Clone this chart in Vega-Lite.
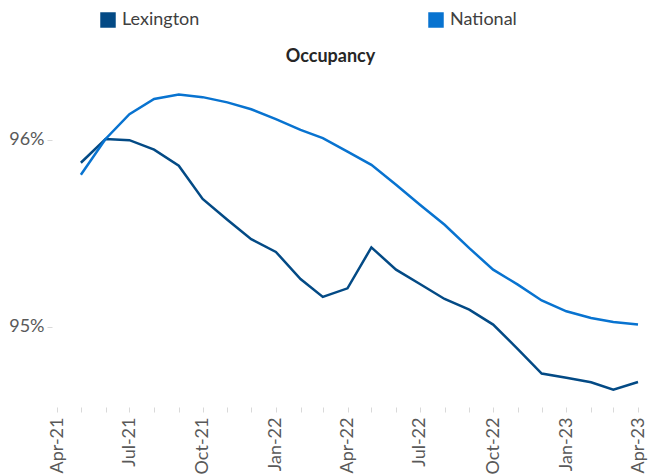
{
  "$schema": "https://vega.github.io/schema/vega-lite/v6.json",
  "autosize": {"type": "none"},
  "width": 581,
  "height": 342,
  "padding": {"left": 57, "top": 65, "right": 11, "bottom": 68},
  "background": "white",
  "config": {
    "font": "Lato",
    "view": {"stroke": null}
  },
  "title": {
    "text": "Occupancy",
    "font": "Lato",
    "fontSize": 18,
    "fontWeight": "bold",
    "color": "#262626",
    "anchor": "middle",
    "frame": "group",
    "dx": -17,
    "dy": 59,
    "offset": 4
  },
  "data": {
    "values": [
      {"date": "2021-05-01", "series": "Lexington", "value": 95.877},
      {"date": "2021-06-01", "series": "Lexington", "value": 96.004},
      {"date": "2021-07-01", "series": "Lexington", "value": 95.998},
      {"date": "2021-08-01", "series": "Lexington", "value": 95.947},
      {"date": "2021-09-01", "series": "Lexington", "value": 95.861},
      {"date": "2021-10-01", "series": "Lexington", "value": 95.683},
      {"date": "2021-11-01", "series": "Lexington", "value": 95.572},
      {"date": "2021-12-01", "series": "Lexington", "value": 95.468},
      {"date": "2022-01-01", "series": "Lexington", "value": 95.4},
      {"date": "2022-02-01", "series": "Lexington", "value": 95.255},
      {"date": "2022-03-01", "series": "Lexington", "value": 95.159},
      {"date": "2022-04-01", "series": "Lexington", "value": 95.205},
      {"date": "2022-05-01", "series": "Lexington", "value": 95.424},
      {"date": "2022-06-01", "series": "Lexington", "value": 95.305},
      {"date": "2022-07-01", "series": "Lexington", "value": 95.228},
      {"date": "2022-08-01", "series": "Lexington", "value": 95.148},
      {"date": "2022-09-01", "series": "Lexington", "value": 95.091},
      {"date": "2022-10-01", "series": "Lexington", "value": 95.011},
      {"date": "2022-11-01", "series": "Lexington", "value": 94.88},
      {"date": "2022-12-01", "series": "Lexington", "value": 94.749},
      {"date": "2023-01-01", "series": "Lexington", "value": 94.726},
      {"date": "2023-02-01", "series": "Lexington", "value": 94.702},
      {"date": "2023-03-01", "series": "Lexington", "value": 94.663},
      {"date": "2023-04-01", "series": "Lexington", "value": 94.704},
      {"date": "2021-05-01", "series": "National", "value": 95.813},
      {"date": "2021-06-01", "series": "National", "value": 96.004},
      {"date": "2021-07-01", "series": "National", "value": 96.137},
      {"date": "2021-08-01", "series": "National", "value": 96.218},
      {"date": "2021-09-01", "series": "National", "value": 96.242},
      {"date": "2021-10-01", "series": "National", "value": 96.228},
      {"date": "2021-11-01", "series": "National", "value": 96.2},
      {"date": "2021-12-01", "series": "National", "value": 96.163},
      {"date": "2022-01-01", "series": "National", "value": 96.11},
      {"date": "2022-02-01", "series": "National", "value": 96.053},
      {"date": "2022-03-01", "series": "National", "value": 96.009},
      {"date": "2022-04-01", "series": "National", "value": 95.937},
      {"date": "2022-05-01", "series": "National", "value": 95.866},
      {"date": "2022-06-01", "series": "National", "value": 95.759},
      {"date": "2022-07-01", "series": "National", "value": 95.652},
      {"date": "2022-08-01", "series": "National", "value": 95.545},
      {"date": "2022-09-01", "series": "National", "value": 95.42},
      {"date": "2022-10-01", "series": "National", "value": 95.305},
      {"date": "2022-11-01", "series": "National", "value": 95.225},
      {"date": "2022-12-01", "series": "National", "value": 95.14},
      {"date": "2023-01-01", "series": "National", "value": 95.082},
      {"date": "2023-02-01", "series": "National", "value": 95.046},
      {"date": "2023-03-01", "series": "National", "value": 95.025},
      {"date": "2023-04-01", "series": "National", "value": 95.011}
    ]
  },
  "mark": {"type": "line", "strokeWidth": 2.5, "strokeJoin": "miter"},
  "encoding": {
    "x": {
      "field": "date",
      "type": "temporal",
      "scale": {
        "type": "utc",
        "domain": [
          {"year": 2021, "month": 4, "date": 1, "utc": true},
          {"year": 2023, "month": 4, "date": 1, "utc": true}
        ],
        "nice": false
      },
      "axis": {
        "title": null,
        "domain": false,
        "grid": false,
        "tickCount": {"interval": "month", "step": 1},
        "ticks": true,
        "tickSize": 5,
        "tickColor": "#d9d9d9",
        "tickWidth": 1,
        "labelAngle": -90,
        "labelPadding": 5,
        "labelFont": "Lato",
        "labelFontSize": 18,
        "labelColor": "#595959",
        "labelOverlap": false,
        "labelExpr": "utcmonth(datum.value) % 3 == 0 ? utcFormat(datum.value, '%b-%y') : ''"
      }
    },
    "y": {
      "field": "value",
      "type": "quantitative",
      "scale": {"domain": [94.57, 96.4], "nice": false, "zero": false},
      "axis": {
        "title": null,
        "domain": false,
        "grid": false,
        "values": [95, 96],
        "ticks": true,
        "tickSize": 5,
        "tickColor": "#d9d9d9",
        "offset": 5,
        "labelPadding": 3,
        "labelFont": "Lato",
        "labelFontSize": 18,
        "labelColor": "#595959",
        "labelExpr": "format(datum.value, '.0f') + '%'"
      }
    },
    "color": {
      "field": "series",
      "type": "nominal",
      "scale": {"domain": ["Lexington", "National"], "range": ["#034A85", "#0873D0"]},
      "legend": {
        "title": null,
        "orient": "none",
        "legendX": 42,
        "legendY": -54,
        "direction": "horizontal",
        "symbolType": "square",
        "symbolSize": 240,
        "symbolStrokeWidth": 0,
        "labelFont": "Lato",
        "labelFontSize": 18,
        "labelColor": "#404040",
        "labelOffset": 5,
        "columnPadding": 227,
        "encode": {
          "symbols": {
            "update": {
              "fill": {"scale": "color", "field": "value"},
              "fillOpacity": {"value": 1},
              "strokeWidth": {"value": 0}
            }
          }
        }
      }
    }
  }
}
